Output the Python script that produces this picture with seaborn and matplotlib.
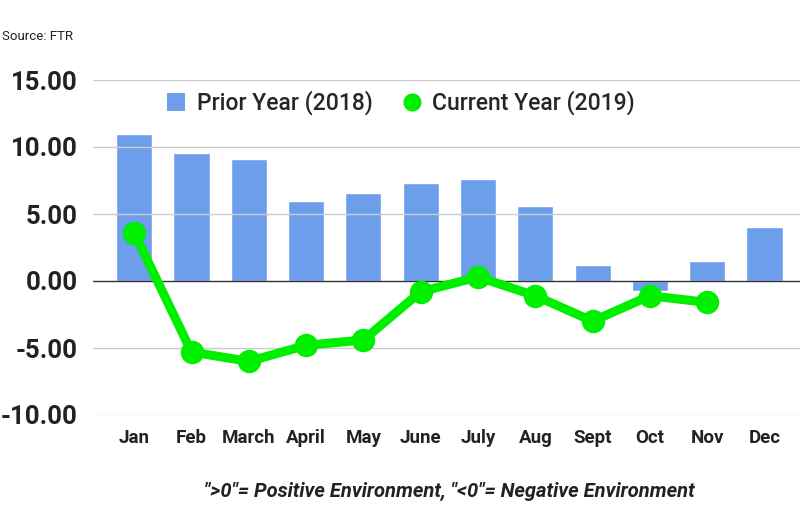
import pandas as pd
import matplotlib
matplotlib.use("Agg")
import matplotlib.pyplot as plt
import seaborn as sns
from matplotlib.lines import Line2D
from matplotlib.patches import Patch

months = ['Jan', 'Feb', 'March', 'April', 'May', 'June', 'July', 'Aug', 'Sept', 'Oct', 'Nov', 'Dec']
prior_2018 = [11.0, 9.55, 9.1, 6.0, 6.55, 7.3, 7.6, 5.6, 1.2, -0.75, 1.5, 4.0]
current_2019 = [3.6, -5.3, -6.0, -4.8, -4.4, -0.8, 0.3, -1.1, -3.0, -1.1, -1.6]
y_ticks = [-10, -5, 0, 5, 10, 15]

sns.set_style("white")
plt.rcParams['font.family'] = ['Roboto', 'DejaVu Sans']

bar_color = '#6d9eeb'
line_color = '#00ee00'

df_prior = pd.DataFrame({'month': months, 'value': prior_2018})
df_curr = pd.DataFrame({'month': months[:len(current_2019)], 'value': current_2019})

fig = plt.figure(figsize=(8, 5.32), dpi=100)
ax = fig.add_axes([93 / 800, 1 - 415 / 532, 707 / 800, 335 / 532])

for v in y_ticks:
    ax.axhline(v, color='#cccccc' if v != 0 else '#333333', lw=1.0, zorder=0)

sns.barplot(data=df_prior, x='month', y='value', order=months, color=bar_color,
            width=0.63, saturation=1, ax=ax, zorder=2)
sns.pointplot(data=df_curr, x='month', y='value', order=months, color=line_color,
              markers='o', markersize=12, linewidth=6.5, ax=ax)
for ln in ax.lines:
    ln.set_zorder(3)

ax.set_xlim(-0.72, 11.62)
ax.set_ylim(-10, 15)
ax.set_yticks(y_ticks)
ax.set_yticklabels([f'{v:.2f}' for v in y_ticks], fontsize=18.5, fontweight='bold', color='#222222')
ax.tick_params(axis='y', length=0, pad=11)
ax.tick_params(axis='x', length=0, pad=10)
ax.set_xticks(range(len(months)))
ax.set_xticklabels(months, fontsize=13.5, fontweight='bold', color='#222222')
ax.set_xlabel('')
ax.set_ylabel('')
for s in ax.spines.values():
    s.set_visible(False)

handles = [Patch(facecolor=bar_color, edgecolor='none', label='Prior Year (2018)'),
           Line2D([0], [0], marker='o', color='none', markerfacecolor=line_color,
                  markeredgecolor=line_color, markersize=12, label='Current Year (2019)')]
ax.legend(handles=handles, loc='center', bbox_to_anchor=(401 / 800, 1 - 103 / 532),
          bbox_transform=fig.transFigure, ncol=2, frameon=False,
          handlelength=0.8, handleheight=0.8, handletextpad=0.5, columnspacing=1.3,
          prop={'size': 16.5, 'weight': 'medium'})

fig.text(0.002, 1 - 37 / 532, 'Source: FTR', fontsize=9.5, va='center', ha='left', color='#222222')
fig.text(449 / 800, 1 - 491 / 532, '">0"= Positive Environment, "<0"= Negative Environment',
         fontsize=14.5, fontstyle='italic', fontweight='bold', ha='center', va='center', color='#222222')

fig.savefig('out.png', dpi=100)
